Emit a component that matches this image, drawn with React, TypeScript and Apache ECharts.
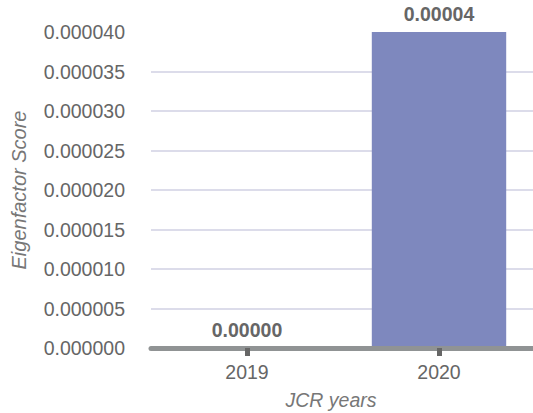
import React, { useEffect, useRef } from "react";
import * as echarts from "echarts";

const categories = ["2019", "2020"];
const scores = [0, 0.00004];

export default function App() {
  const ref = useRef<HTMLDivElement>(null);
  useEffect(() => {
    if (!ref.current) return;
    const chart = echarts.init(ref.current, null, { renderer: "svg" });
    const font = "'Liberation Sans', Arial, Helvetica, sans-serif";
    chart.setOption({
      animation: false,
      textStyle: { fontFamily: font },
      grid: { left: 151, right: -2, top: 32, bottom: 65, outerBoundsMode: "none", containLabel: false },
      xAxis: {
        type: "category",
        data: categories,
        name: "JCR years",
        nameLocation: "middle",
        nameGap: 42,
        nameTextStyle: { fontStyle: "italic", fontSize: 19.5, color: "#777", fontFamily: font, padding: [0, 24, 0, 0] },
        axisLine: { show: true, onZero: false, lineStyle: { color: "#909394", width: 5, type: "solid", opacity: 1 } },
        axisTick: { show: true, alignWithLabel: true, length: 8, lineStyle: { color: "#666", width: 5 } },
        axisLabel: { color: "#666", fontSize: 19.5, margin: 14, fontFamily: font },
        splitLine: { show: false },
        z: 5,
      },
      yAxis: {
        type: "value",
        min: 0,
        max: 0.00004,
        interval: 0.000005,
        name: "Eigenfactor Score",
        nameLocation: "middle",
        nameGap: 122,
        nameTextStyle: { fontStyle: "italic", fontSize: 20, color: "#777", fontFamily: font },
        axisLine: { show: false },
        axisTick: { show: false },
        axisLabel: { color: "#666", fontSize: 19.5, margin: 26, fontFamily: font, formatter: (v: number) => v.toFixed(6) },
        splitLine: { show: true, showMaxLine: false, showMinLine: false, lineStyle: { color: "#dcdcea", width: 2 } },
      },
      series: [
        {
          type: "bar",
          data: scores,
          barWidth: "70%",
          itemStyle: { color: "#7e88be" },
          label: {
            show: true,
            position: "top",
            distance: 8,
            color: "#666",
            fontWeight: "bold",
            fontSize: 19.5,
            fontFamily: font,
            formatter: (p: any) => Number(p.value).toFixed(5),
          },
        },
      ],
    });
    return () => chart.dispose();
  }, []);
  return <div ref={ref} style={{ width: 533, height: 413, position: "absolute", left: 0, top: 0 }} />;
}
